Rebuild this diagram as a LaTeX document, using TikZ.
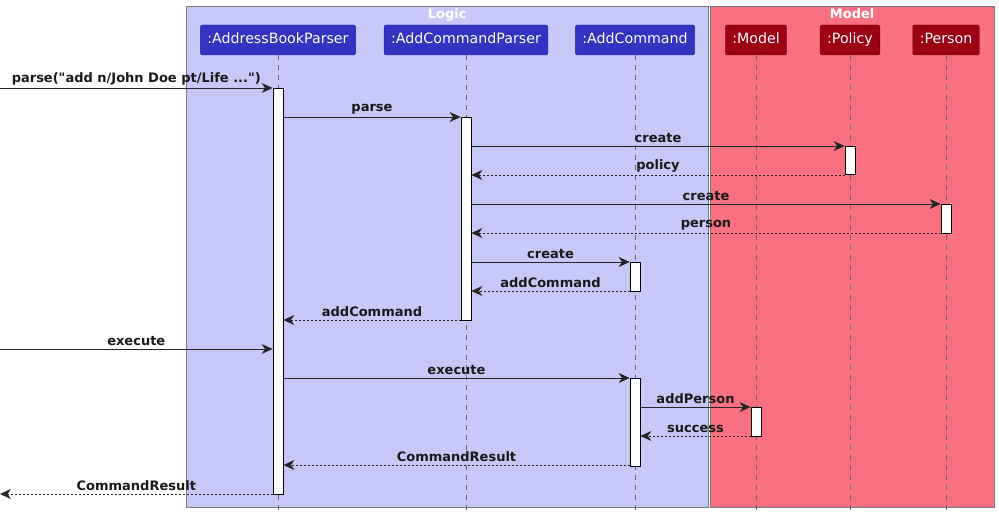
\documentclass[tikz,border=0pt]{standalone}
\usepackage{fontspec}
\setmainfont{DejaVu Sans}[Ligatures=TeXOff]
\usetikzlibrary{arrows.meta, positioning}
\definecolor{umlblue}{HTML}{3333C2}
\definecolor{umlbluebg}{HTML}{C8C8F8}
\definecolor{umlred}{HTML}{9D0012}
\definecolor{umlredbg}{HTML}{F97181}
\definecolor{umlgrey}{HTML}{7A7A7A}
\tikzset{
  x=1pt, y=-1pt,
  >={Stealth[length=11pt, width=10pt, inset=3.5pt]},
  part/.style={rectangle, rounded corners=2pt, draw=umlblue!70!black, fill=umlblue,
               text=white, minimum height=30pt, inner xsep=7pt,
               text height=10.5pt, text depth=3pt,
               font=\fontsize{14.2}{16}\selectfont},
  partr/.style={part, draw=umlred!70!black, fill=umlred},
  grp/.style={rectangle, draw=umlgrey, anchor=north west, inner sep=0pt},
  grptitle/.style={text=white, font=\fontsize{13}{15}\selectfont\bfseries, inner sep=0pt},
  life/.style={draw=black!60, dash pattern=on 5pt off 5pt, line width=0.6pt},
  act/.style={rectangle, draw=black, fill=white, minimum width=10pt, anchor=north,
              inner sep=0pt, line width=0.8pt},
  flow/.style={->, draw=black!85, line width=0.8pt},
  flowd/.style={flow, dash pattern=on 2pt off 2pt},
  lbl/.style={font=\fontsize{13}{15}\selectfont\bfseries, text=black!90, above,
              inner sep=2.5pt},
}

\begin{document}
\begin{tikzpicture}
  \useasboundingbox (0,0) rectangle (999,519);
  % boxes
  \node[grp, fill=umlbluebg, minimum width=522pt, minimum height=501pt] (logic) at (186,6) {};
  \node[grp, fill=umlredbg, minimum width=284pt, minimum height=501pt] (model) at (710,6) {};
  \node[grptitle, below=2pt of logic.north] (logict) {Logic};
  \node[grptitle, below=2pt of model.north] (modelt) {Model};

  % participants
  \node[part] (abp) at (278,40) {:AddressBookParser};
  \node[part] (acp) at (466,40) {:AddCommandParser};
  \node[part] (ac) at (635,40) {:AddCommand};
  \node[partr] (mdl) at (756,40) {:Model};
  \node[partr] (pol) at (850,40) {:Policy};
  \node[partr] (per) at (946,40) {:Person};

  \coordinate (bot) at (0,511);
  \foreach \p in {abp, acp, ac, mdl, pol, per}
    \draw[life] (\p) -- (\p |- bot);

  % message rows
  \foreach \i in {1,...,15}
    \coordinate (r\i) at (0,{88+29*(\i-1)});

  % activations
  \node[act, minimum height=406pt] (abpa) at (abp |- r1) {};
  \node[act, minimum height=203pt] (acpa) at (acp |- r2) {};
  \node[act, minimum height=28pt] (pola) at (pol |- r3) {};
  \node[act, minimum height=29pt] (pera) at (per |- r5) {};
  \node[act, minimum height=29pt] (aca) at (ac |- r7) {};
  \node[act, minimum height=88pt] (acb) at (ac |- r11) {};
  \node[act, minimum height=29pt] (mdla) at (mdl |- r12) {};

  % messages
  \draw[flow] (r1) -- (abpa.west |- r1) node[lbl, midway] {parse("add n/John Doe pt/Life ...")};
  \draw[flow] (abpa.east |- r2) -- (acpa.west |- r2) node[lbl, midway] {parse};
  \draw[flow] (acpa.east |- r3) -- (pola.west |- r3) node[lbl, midway] {create};
  \draw[flowd] (pola.west |- r4) -- (acpa.east |- r4) node[lbl, midway] {policy};
  \draw[flow] (acpa.east |- r5) -- (pera.west |- r5) node[lbl, midway] {create};
  \draw[flowd] (pera.west |- r6) -- (acpa.east |- r6) node[lbl, midway] {person};
  \draw[flow] (acpa.east |- r7) -- (aca.west |- r7) node[lbl, midway] {create};
  \draw[flowd] (aca.west |- r8) -- (acpa.east |- r8) node[lbl, midway] {addCommand};
  \draw[flowd] (acpa.west |- r9) -- (abpa.east |- r9) node[lbl, midway] {addCommand};
  \draw[flow] (r10) -- (abpa.west |- r10) node[lbl, midway] {execute};
  \draw[flow] (abpa.east |- r11) -- (acb.west |- r11) node[lbl, midway] {execute};
  \draw[flow] (acb.east |- r12) -- (mdla.west |- r12) node[lbl, midway] {addPerson};
  \draw[flowd] (mdla.west |- r13) -- (acb.east |- r13) node[lbl, midway] {success};
  \draw[flowd] (acb.west |- r14) -- (abpa.east |- r14) node[lbl, midway] {CommandResult};
  \draw[flowd] (abpa.west |- r15) -- (r15) node[lbl, midway] {CommandResult};
\end{tikzpicture}
\end{document}
